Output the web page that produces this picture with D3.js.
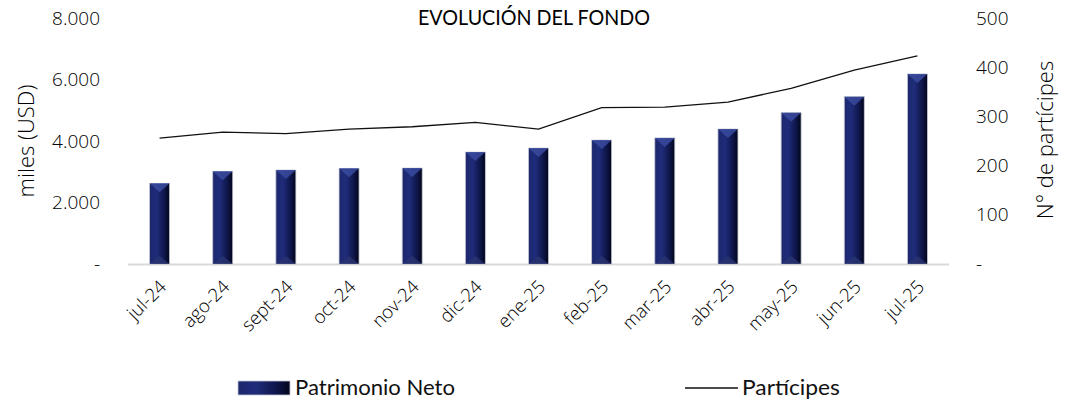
<!DOCTYPE html>
<html>
<head>
<meta charset="utf-8">
<script src="https://cdn.jsdelivr.net/npm/d3@7"></script>
<style>
  body { margin: 0; background: #fff; }
  .tick text { font-family: "Open Sans", sans-serif; font-weight: 300; font-size: 19px; fill: #000; }
  .domain { display: none; }
  .tick line { display: none; }
</style>
</head>
<body>
<div id="chart"></div>
<script>
var months = ["jul-24", "ago-24", "sept-24", "oct-24", "nov-24", "dic-24", "ene-25",
              "feb-25", "mar-25", "abr-25", "may-25", "jun-25", "jul-25"];
var patrimonio = [2624, 3015, 3057, 3111, 3120, 3640, 3770, 4030, 4100, 4390, 4920, 5440, 6180];
var participes = [256, 268, 265, 274, 279, 288, 274, 318, 319, 329, 357, 394, 423];
var leftTicks = [0, 2000, 4000, 6000, 8000];
var rightTicks = [0, 100, 200, 300, 400, 500];

function draw() {
  var w = 1070, h = 403;
  var pLeft = 128, pRight = 949, pTop = 18, pBottom = 264;

  var svg = d3.select("#chart").append("svg")
    .attr("width", w).attr("height", h);

  var defs = svg.append("defs");
  var grad = defs.append("linearGradient").attr("id", "barGrad")
    .attr("x1", "0%").attr("x2", "100%").attr("y1", "0%").attr("y2", "0%");
  grad.append("stop").attr("offset", "0%").attr("stop-color", "#1c276c");
  grad.append("stop").attr("offset", "35%").attr("stop-color", "#1f2c7a");
  grad.append("stop").attr("offset", "75%").attr("stop-color", "#0e1548");
  grad.append("stop").attr("offset", "100%").attr("stop-color", "#02051a");

  var x = d3.scaleBand().domain(months).range([pLeft, pRight]);
  var yL = d3.scaleLinear().domain([0, 8000]).range([pBottom, pTop]);
  var yR = d3.scaleLinear().domain([0, 500]).range([pBottom, pTop]);

  var fmt = function(d) { return d === 0 ? "-" : d3.format(",")(d).replace(/,/g, "."); };

  // baseline
  svg.append("line")
    .attr("x1", pLeft).attr("x2", pRight)
    .attr("y1", pBottom + 0.5).attr("y2", pBottom + 0.5)
    .attr("stroke", "#d9d9d9").attr("stroke-width", 2);

  // bars
  var bw = 20;
  var bars = svg.append("g").selectAll("g").data(months).enter().append("g");
  bars.append("rect")
    .attr("x", function(d) { return x(d) + x.bandwidth() / 2 - bw / 2; })
    .attr("y", function(d, i) { return yL(patrimonio[i]); })
    .attr("width", bw)
    .attr("height", function(d, i) { return pBottom - yL(patrimonio[i]); })
    .attr("fill", "url(#barGrad)")
    .attr("stroke", "#c4c8d4").attr("stroke-width", 0.8);
  bars.append("path")
    .attr("d", function(d, i) {
      var cx = x(d) + x.bandwidth() / 2, t = yL(patrimonio[i]);
      return "M" + (cx - bw / 2) + "," + t + "L" + (cx + bw / 2) + "," + t + "L" + cx + "," + (t + 9) + "Z";
    })
    .attr("fill", "#3a4a9e").attr("opacity", 0.85);
  bars.append("path")
    .attr("d", function(d) {
      var cx = x(d) + x.bandwidth() / 2;
      return "M" + (cx - bw / 2) + "," + pBottom + "L" + (cx + bw / 2) + "," + pBottom + "L" + cx + "," + (pBottom - 8) + "Z";
    })
    .attr("fill", "#2b3470").attr("opacity", 0.8);

  // line
  var line = d3.line()
    .x(function(d, i) { return x(months[i]) + x.bandwidth() / 2; })
    .y(function(d) { return yR(d); });
  svg.append("path").datum(participes)
    .attr("d", line)
    .attr("fill", "none").attr("stroke", "#111").attr("stroke-width", 1.3);

  // axes
  svg.append("g").attr("transform", "translate(" + 100 + ",0)")
    .call(d3.axisLeft(yL).tickValues(leftTicks).tickFormat(fmt).tickSize(0).tickPadding(0));
  svg.append("g").attr("transform", "translate(" + 976 + ",0)")
    .call(d3.axisRight(yR).tickValues(rightTicks).tickFormat(fmt).tickSize(0).tickPadding(0));

  var xAxis = svg.append("g").attr("transform", "translate(0," + pBottom + ")")
    .call(d3.axisBottom(x).tickSize(0));
  xAxis.selectAll("text")
    .attr("text-anchor", "end")
    .attr("dy", 0)
    .attr("y", 0)
    .attr("transform", "translate(8,24) rotate(-45)")
    .style("font-size", "18.5px");

  // axis titles
  svg.append("text")
    .attr("transform", "translate(34,141) rotate(-90)")
    .attr("text-anchor", "middle")
    .style("font-family", "Open Sans").style("font-weight", 300).style("font-size", "22px").style("fill", "#000")
    .text("miles (USD)");
  svg.append("text")
    .attr("transform", "translate(1053,140) rotate(-90)")
    .attr("text-anchor", "middle")
    .style("font-family", "Open Sans").style("font-weight", 300).style("font-size", "22px").style("fill", "#000")
    .text("N° de partícipes");

  // title
  svg.append("text")
    .attr("x", 418).attr("y", 25)
    .attr("textLength", 232).attr("lengthAdjust", "spacingAndGlyphs")
    .style("font-family", "Lato").style("font-size", "21px").style("fill", "#000")
    .text("EVOLUCIÓN DEL FONDO");

  // legend
  svg.append("rect")
    .attr("x", 238).attr("y", 381).attr("width", 52).attr("height", 14)
    .attr("fill", "url(#barGrad)").attr("stroke", "#c4c8d4").attr("stroke-width", 0.8);
  svg.append("text")
    .attr("x", 295).attr("y", 395)
    .attr("textLength", 160).attr("lengthAdjust", "spacingAndGlyphs")
    .style("font-family", "Lato").style("font-size", "21px").style("fill", "#111")
    .text("Patrimonio Neto");
  svg.append("line")
    .attr("x1", 685).attr("x2", 738).attr("y1", 388).attr("y2", 388)
    .attr("stroke", "#111").attr("stroke-width", 1.3);
  svg.append("text")
    .attr("x", 742).attr("y", 395)
    .attr("textLength", 98).attr("lengthAdjust", "spacingAndGlyphs")
    .style("font-family", "Lato").style("font-size", "21px").style("fill", "#111")
    .text("Partícipes");
}

window.onload = draw;
</script>
</body>
</html>
